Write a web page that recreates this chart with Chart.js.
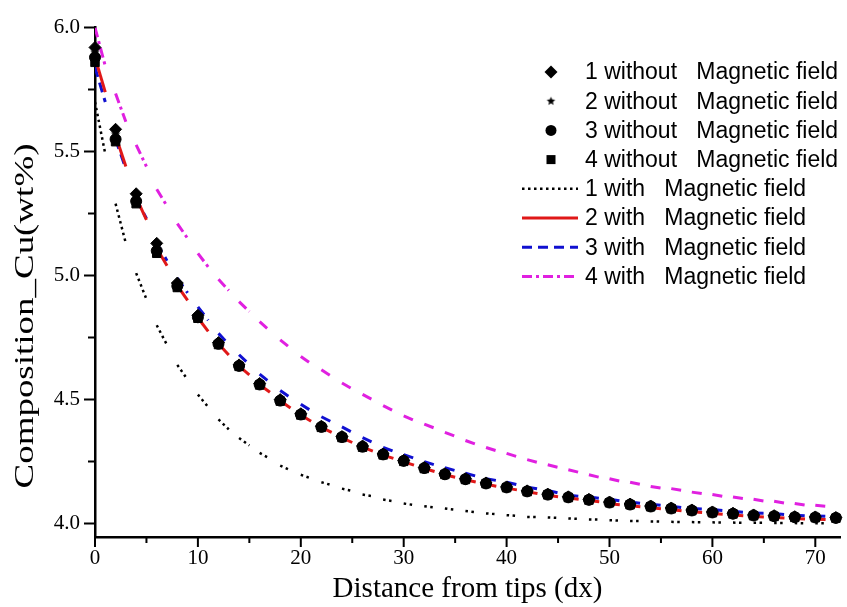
<!DOCTYPE html>
<html>
<head>
<meta charset="utf-8">
<script src="https://cdn.jsdelivr.net/npm/chart.js@4/dist/chart.umd.min.js"></script>
<style>
  html, body { margin: 0; padding: 0; background: #fff; }
  #wrap { width: 847px; height: 607px; }
</style>
</head>
<body>
<div id="wrap"><canvas id="cuChart" width="847" height="607"></canvas></div>
<script>
// marker positions (without magnetic field), every 2 dx
var xMarks = [0,2,4,6,8,10,12,14,16,18,20,22,24,26,28,30,32,34,36,38,40,42,44,46,48,50,52,54,56,58,60,62,64,66,68,70,72];
var without1 = [5.92,5.59,5.33,5.13,4.97,4.84,4.73,4.64,4.565,4.50,4.443,4.393,4.351,4.313,4.281,4.255,4.226,4.201,4.181,4.164,4.148,4.132,4.119,4.108,4.098,4.087,4.079,4.071,4.063,4.055,4.047,4.042,4.035,4.032,4.028,4.027,4.025];
var without2 = [5.90,5.57,5.32,5.12,4.965,4.836,4.728,4.639,4.563,4.498,4.441,4.391,4.35,4.311,4.28,4.254,4.225,4.2,4.18,4.163,4.147,4.131,4.118,4.107,4.097,4.086,4.078,4.07,4.062,4.054,4.046,4.041,4.034,4.031,4.027,4.026,4.024];
var without3 = [5.88,5.55,5.30,5.10,4.958,4.832,4.725,4.636,4.561,4.496,4.44,4.39,4.349,4.31,4.279,4.253,4.224,4.199,4.179,4.162,4.146,4.13,4.117,4.106,4.096,4.085,4.077,4.069,4.061,4.053,4.045,4.04,4.033,4.03,4.026,4.025,4.023];
var without4 = [5.86,5.54,5.29,5.09,4.952,4.828,4.722,4.634,4.559,4.494,4.438,4.388,4.347,4.308,4.277,4.251,4.222,4.198,4.178,4.161,4.145,4.129,4.116,4.105,4.095,4.084,4.076,4.068,4.06,4.052,4.044,4.039,4.032,4.029,4.025,4.024,4.022];

// curves (with magnetic field), every 1 dx from 0 to 72
var xLine = [];
for (var i = 0; i <= 72; i++) xLine.push(i);
var with1 = [5.70,5.49,5.29,5.13,5.01,4.905,4.80,4.72,4.64,4.58,
  4.52,4.47,4.42,4.38,4.345,4.315,4.285,4.262,4.234,4.215,
  4.197,4.182,4.167,4.155,4.141,4.132,4.117,4.11,4.097,4.09,
  4.081,4.075,4.07,4.065,4.061,4.056,4.051,4.046,4.041,4.038,
  4.034,4.031,4.027,4.026,4.025,4.023,4.021,4.019,4.017,4.016,
  4.014,4.012,4.011,4.01,4.009,4.008,4.007,4.006,4.006,4.005,
  4.005,4.004,4.004,4.003,4.003,4.003,4.002,4.002,4.002,4.001,4.001,4.001,4.001];
var with2 = [5.88,5.74,5.565,5.44,5.315,5.225,5.11,5.04,4.96,4.9,
  4.83,4.775,4.725,4.68,4.635,4.6,4.56,4.53,4.495,4.466,
  4.438,4.413,4.388,4.368,4.346,4.327,4.308,4.292,4.276,4.263,
  4.249,4.236,4.222,4.21,4.197,4.187,4.177,4.168,4.159,4.151,
  4.143,4.136,4.128,4.121,4.114,4.108,4.103,4.098,4.093,4.088,
  4.08,4.076,4.072,4.068,4.064,4.06,4.056,4.052,4.048,4.045,
  4.041,4.038,4.035,4.032,4.029,4.027,4.025,4.023,4.021,4.019,4.018,4.017,4.016];
var with3 = [5.84,5.70,5.55,5.43,5.31,5.23,5.13,5.06,4.99,4.93,
  4.874,4.82,4.767,4.722,4.681,4.641,4.603,4.569,4.537,4.508,
  4.481,4.455,4.431,4.41,4.39,4.368,4.347,4.327,4.307,4.292,
  4.278,4.264,4.25,4.237,4.225,4.214,4.203,4.192,4.181,4.174,
  4.167,4.157,4.147,4.14,4.134,4.124,4.114,4.11,4.107,4.102,
  4.098,4.092,4.087,4.082,4.078,4.074,4.07,4.065,4.061,4.059,
  4.057,4.053,4.05,4.046,4.043,4.042,4.041,4.037,4.034,4.032,4.031,4.03,4.029];
var with4 = [6.0,5.845,5.734,5.62,5.527,5.44,5.348,5.28,5.21,5.15,
  5.09,5.035,4.985,4.94,4.895,4.855,4.814,4.777,4.741,4.707,
  4.674,4.645,4.62,4.593,4.567,4.543,4.521,4.499,4.476,4.455,
  4.434,4.416,4.401,4.385,4.368,4.352,4.335,4.32,4.307,4.294,
  4.283,4.27,4.258,4.247,4.237,4.227,4.217,4.207,4.197,4.187,
  4.181,4.171,4.167,4.158,4.15,4.143,4.141,4.134,4.127,4.121,
  4.117,4.11,4.107,4.101,4.098,4.091,4.09,4.083,4.081,4.075,4.074,4.07,4.066];

var xTicks = [0,10,20,30,40,50,60,70];
var yTicks = [4.0,4.5,5.0,5.5,6.0];

var seriesLabels = [
  '1 without   Magnetic field', '2 without   Magnetic field',
  '3 without   Magnetic field', '4 without   Magnetic field',
  '1 with   Magnetic field', '2 with   Magnetic field',
  '3 with   Magnetic field', '4 with   Magnetic field'
];

function pts(xs, ys) {
  return xs.map(function (x, k) { return { x: x, y: ys[k] }; });
}

function starCanvas(r) {
  var s = Math.ceil(r * 2 + 2);
  var c = document.createElement('canvas');
  c.width = s; c.height = s;
  var g = c.getContext('2d');
  g.fillStyle = '#000';
  g.beginPath();
  for (var k = 0; k < 10; k++) {
    var a = -Math.PI / 2 + k * Math.PI / 5;
    var rr = k % 2 ? r * 0.45 : r;
    g.lineTo(s / 2 + rr * Math.cos(a), s / 2 + rr * Math.sin(a));
  }
  g.closePath();
  g.fill();
  return c;
}
var star = starCanvas(5);
var starSmall = starCanvas(4.5);

// the fitted curves are only drawn on every other step
var everyOther = {
  borderColor: function (c) { return c.p0DataIndex % 2 ? 'rgba(0,0,0,0)' : undefined; }
};

function markerSet(label, ys, style, r) {
  return {
    label: label, data: pts(xMarks, ys), showLine: false,
    pointStyle: style, pointRadius: r, pointBackgroundColor: '#000',
    pointBorderColor: '#000', pointBorderWidth: 1, clip: false
  };
}
function curveSet(label, ys, color, width, dash) {
  return {
    label: label, data: pts(xLine, ys), showLine: true, pointRadius: 0,
    borderColor: color, borderWidth: width, borderDash: dash, segment: everyOther,
    tension: 0
  };
}

var datasets = [
  markerSet(seriesLabels[0], without1, 'rectRot', 6),
  markerSet(seriesLabels[1], without2, star, 5),
  markerSet(seriesLabels[2], without3, 'circle', 5.5),
  markerSet(seriesLabels[3], without4, 'rect', 6),
  curveSet(seriesLabels[4], with1, '#000000', 2.5, [2.5, 3.5]),
  curveSet(seriesLabels[5], with2, '#e01818', 3, []),
  curveSet(seriesLabels[6], with3, '#1010d0', 3, [10, 6]),
  curveSet(seriesLabels[7], with4, '#e020e0', 3, [10, 4, 3, 4])
];

function drawSymbol(ctx, style, x, y) {
  ctx.fillStyle = '#000';
  ctx.beginPath();
  if (style === 'rectRot') {
    ctx.moveTo(x, y - 6.5); ctx.lineTo(x + 6.5, y); ctx.lineTo(x, y + 6.5); ctx.lineTo(x - 6.5, y);
    ctx.closePath(); ctx.fill();
  } else if (style === 'circle') {
    ctx.arc(x, y, 5.5, 0, Math.PI * 2); ctx.fill();
  } else if (style === 'rect') {
    ctx.fillRect(x - 4.5, y - 4.5, 9, 9);
  } else {
    ctx.drawImage(starSmall, x - starSmall.width / 2, y - starSmall.height / 2);
  }
}

var insetLegend = {
  id: 'insetLegend',
  afterDraw: function (chart) {
    var ctx = chart.ctx;
    ctx.save();
    ctx.font = '23px "Liberation Sans", Arial, sans-serif';
    ctx.textBaseline = 'middle';
    chart.data.datasets.forEach(function (ds, k) {
      var y = 72 + k * 29.2;
      if (ds.showLine) {
        ctx.strokeStyle = ds.borderColor;
        ctx.lineWidth = ds.borderWidth;
        ctx.setLineDash(ds.borderDash || []);
        ctx.beginPath(); ctx.moveTo(522, y); ctx.lineTo(578, y); ctx.stroke();
        ctx.setLineDash([]);
      } else {
        drawSymbol(ctx, ds.pointStyle === star ? 'star' : ds.pointStyle, 551, y);
      }
      ctx.fillStyle = '#000';
      ctx.fillText(ds.label, 585, y + 1);
    });
    ctx.restore();
  }
};

// outward major + minor tick marks, and the rotated y title
var axisDecor = {
  id: 'axisDecor',
  afterDraw: function (chart) {
    var ctx = chart.ctx, xs = chart.scales.x, ys = chart.scales.y, a = chart.chartArea;
    ctx.save();
    ctx.strokeStyle = '#000';
    ctx.lineWidth = 2;
    ctx.beginPath();
    for (var v = 0; v <= 72; v += 5) {
      var px = xs.getPixelForValue(v);
      var len = v % 10 === 0 ? 10 : 6;
      ctx.moveTo(px, a.bottom); ctx.lineTo(px, a.bottom + len);
    }
    for (var w = 4.0; w <= 6.001; w += 0.25) {
      var py = ys.getPixelForValue(w);
      var ln = Math.abs(w * 2 - Math.round(w * 2)) < 1e-6 ? 11 : 7;
      ctx.moveTo(a.left - ln, py); ctx.lineTo(a.left, py);
    }
    ctx.stroke();
    ctx.fillStyle = '#000';
    ctx.font = '28px "Liberation Serif", "Times New Roman", serif';
    ctx.textAlign = 'center';
    ctx.textBaseline = 'middle';
    ctx.translate(26, 316);
    ctx.rotate(-Math.PI / 2);
    ctx.scale(1.32, 1);
    ctx.fillText('Composition_Cu(wt%)', 0, 0);
    ctx.restore();
  }
};

new Chart(document.getElementById('cuChart'), {
  type: 'scatter',
  data: { datasets: datasets },
  plugins: [insetLegend, axisDecor],
  options: {
    responsive: false,
    animation: false,
    layout: { padding: { top: 23, left: 0, right: 0, bottom: 0 } },
    plugins: { legend: { display: false }, tooltip: { enabled: false } },
    scales: {
      x: {
        type: 'linear', min: 0, max: 72.4,
        afterBuildTicks: function (s) { s.ticks = xTicks.map(function (v) { return { value: v }; }); },
        afterFit: function (s) { s.height = 70; },
        grid: { drawOnChartArea: false, drawTicks: false },
        border: { display: true, color: '#000', width: 2.5 },
        ticks: {
          color: '#000', padding: 9, maxRotation: 0,
          font: { family: '"Liberation Serif", "Times New Roman", serif', size: 21 },
          callback: function (v) { return String(v); }
        },
        title: {
          display: true, text: 'Distance from tips (dx)', color: '#000',
          font: { family: '"Liberation Serif", "Times New Roman", serif', size: 29 },
          padding: { top: 0, bottom: 0 }
        }
      },
      y: {
        type: 'linear', min: 3.946, max: 6.0,
        afterBuildTicks: function (s) { s.ticks = yTicks.map(function (v) { return { value: v }; }); },
        afterFit: function (s) { s.width = 95; },
        grid: { drawOnChartArea: false, drawTicks: false },
        border: { display: true, color: '#000', width: 2.5 },
        ticks: {
          color: '#000', padding: 15,
          font: { family: '"Liberation Serif", "Times New Roman", serif', size: 21 },
          callback: function (v) { return Number(v).toFixed(1); }
        }
      }
    }
  }
});
</script>
</body>
</html>
